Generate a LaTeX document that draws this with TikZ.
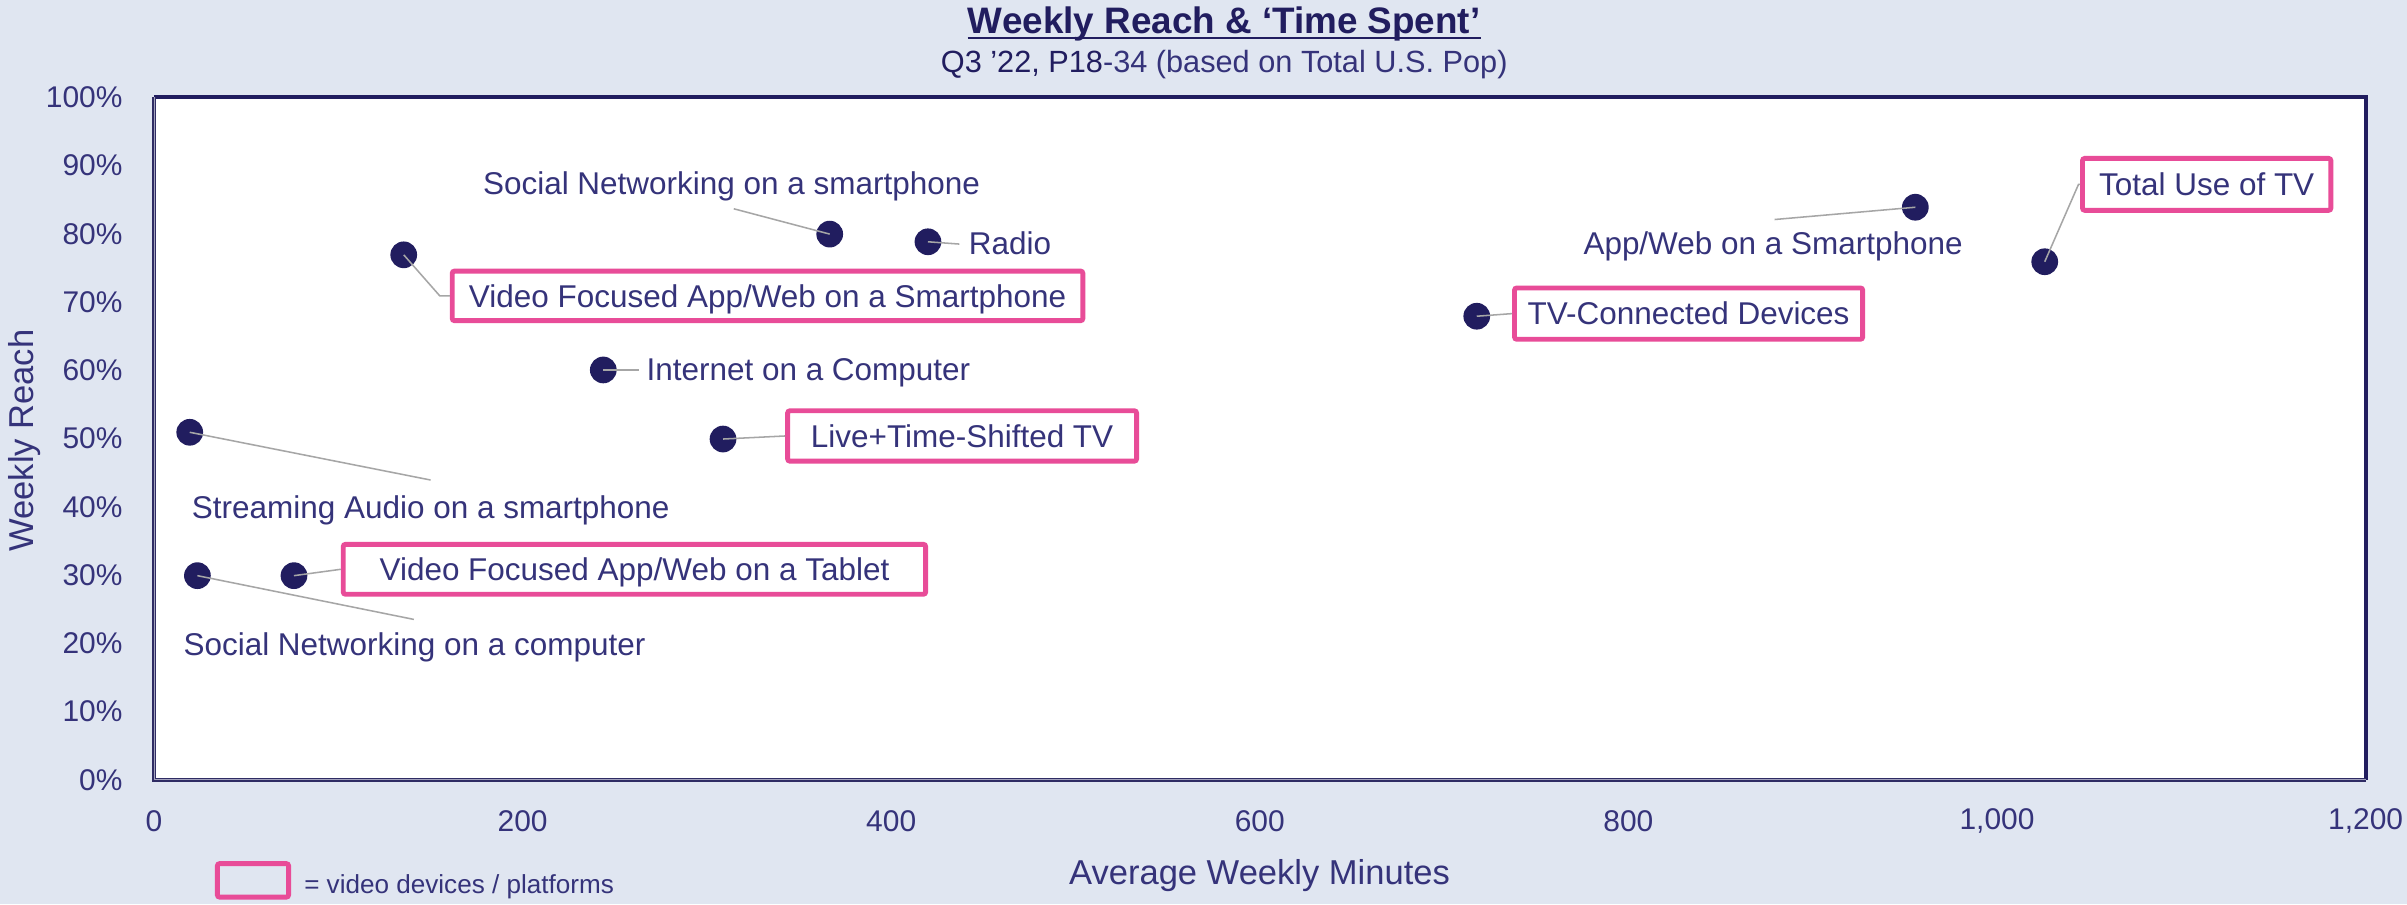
\documentclass[tikz,border=0pt]{standalone}
\usepackage{fontspec}
\setmainfont{Liberation Sans}
\usetikzlibrary{calc}
\definecolor{bg}{HTML}{E0E6F1}
\definecolor{navy}{HTML}{211D5F}
\definecolor{txt}{HTML}{35337A}
\definecolor{vpink}{HTML}{E84C98}
\definecolor{lead}{HTML}{A6A6A6}
\definecolor{frameinner}{HTML}{A4A3BE}
\tikzset{
  dot/.style={circle, fill=navy, minimum size=17.4pt, inner sep=0pt},
  lbl/.style={font=\fontsize{20.5}{24}\selectfont, text=txt, inner sep=0pt},
  vbox/.style={draw=vpink, line width=3.2pt, fill=white, rounded corners=1.5pt,
    font=\fontsize{20.5}{24}\selectfont, text=txt, inner sep=0pt,
    text height=14.8pt, text depth=0pt},
  leader/.style={draw=lead, line width=1pt},
  ytick/.style={font=\fontsize{19.5}{22}\selectfont, text=txt, anchor=east, inner sep=0pt},
  xtick/.style={font=\fontsize{19.5}{22}\selectfont, text=txt, anchor=center, inner sep=0pt},
  axtitle/.style={font=\fontsize{22.5}{26}\selectfont, text=txt, inner sep=0pt},
}
\begin{document}
\begin{tikzpicture}[x=1pt,y=-1pt]
\fill[bg] (0,0) rectangle (1568,589);
\path[use as bounding box] (0,0) rectangle (1568,589);
% plot area
\fill[white] (100.3,63.4) rectangle (1541,508);
\draw[navy, line width=2.6pt] (100.3,63.4) -- (1541,63.4) -- (1541,508);
\draw[navy!85!gray, line width=2.4pt] (100.3,63.4) -- (100.3,508) -- (1541,508);
\draw[frameinner, line width=0.6pt] (100.3,63.4) -- (100.3,508) -- (1541,508);
% y ticks
\foreach \v in {0,...,10} {
  \pgfmathsetmacro{\yy}{508-\v*44.46}
  \node[ytick] (yt\v) at (80,\yy) {\ifnum\v=0 0\%\else\v0\%\fi};
}
% x ticks
\foreach \v/\t in {0/0,200/200,400/400,600/600,800/800,1000/{1,000},1200/{1,200}} {
  \pgfmathsetmacro{\xx}{100.3+\v*1.2006}
  \node[xtick] (xt\v) at (\xx,535) {\t};
}
% axis titles
\node[axtitle, anchor=base] (xtitle) at (820.5,576) {Average Weekly Minutes};
\node[axtitle, anchor=base, rotate=90] (ytitle) at (21.7,287) {Weekly Reach};
% title
\node[anchor=base, inner sep=0pt, font=\bfseries\fontsize{24}{28}\selectfont, text=navy] (title) at (797.5,21.5) {Weekly Reach \& ‘Time Spent’};
\draw[navy, line width=1.2pt] ($(title.base west)+(0,3)$) -- ($(title.base east)+(0,3)$);
\node[anchor=base, inner sep=0pt, font=\fontsize{20}{24}\selectfont] (sub) at (797.5,47.3) {\textcolor{navy}{Q3 ’22, P18}\textcolor{txt}{-34 (based on Total U.S. Pop)}};
% dots
\node[dot] (A) at (263,166) {};
\node[dot] (B) at (540.5,152.5) {};
\node[dot] (C) at (604.5,157.5) {};
\node[dot] (D) at (393,241) {};
\node[dot] (E) at (471,286) {};
\node[dot] (F) at (123.6,281.6) {};
\node[dot] (G) at (128.6,375) {};
\node[dot] (H) at (191.5,375) {};
\node[dot] (I) at (962,206) {};
\node[dot] (J) at (1247.7,135) {};
\node[dot] (K) at (1332,170.5) {};
% boxed labels
\node[vbox, minimum width=410.8pt, minimum height=32.3pt] (Abox) at (500,192.75) {Video Focused App/Web on a Smartphone};
\node[vbox, minimum width=227.3pt, minimum height=32.8pt] (Ebox) at (626.75,284) {Live+Time-Shifted TV};
\node[vbox, minimum width=379.4pt, minimum height=32.5pt] (Hbox) at (413.3,370.85) {Video Focused App/Web on a Tablet};
\node[vbox, minimum width=226.8pt, minimum height=33.4pt] (Ibox) at (1100,204.3) {TV-Connected Devices};
\node[vbox, minimum width=161.8pt, minimum height=33.8pt] (Kbox) at (1437.5,120.1) {Total Use of TV};
% plain labels
\node[lbl, anchor=base] (Btxt) at (476.5,127) {Social Networking on a smartphone};
\node[lbl, anchor=base west] (Ctxt) at (631,166) {Radio};
\node[lbl, anchor=base west] (Dtxt) at (421,248) {Internet on a Computer};
\node[lbl, anchor=base] (Ftxt) at (280.6,337.5) {Streaming Audio on a smartphone};
\node[lbl, anchor=base] (Gtxt) at (270,426.7) {Social Networking on a computer};
\node[lbl, anchor=base] (Jtxt) at (1155,166) {App/Web on a Smartphone};
% leader ends
\coordinate (Ak) at (286.5,192.75);
\coordinate (Bk) at (478,136);
\coordinate (Ck) at (625,159);
\coordinate (Dk) at (416,241);
\coordinate (Fk) at (280.5,312.7);
\coordinate (Gk) at (269.6,403.5);
\coordinate (Jk) at (1156,143);
\coordinate (Kk) at (1354,120.1);
% leaders
\draw[leader] (A.center) -- (Ak) -- (Abox.west);
\draw[leader] (Bk) -- (B.center);
\draw[leader] (C.center) -- (Ck);
\draw[leader] (D.center) -- (Dk);
\draw[leader] (E.center) -- (Ebox.west);
\draw[leader] (F.center) -- (Fk);
\draw[leader] (G.center) -- (Gk);
\draw[leader] (H.center) -- (Hbox.west);
\draw[leader] (I.center) -- (Ibox.west);
\draw[leader] (Jk) -- (J.center);
\draw[leader] (K.center) -- (Kk) -- (Kbox.west);
% legend
\node[draw=vpink, line width=3.2pt, rounded corners=1.5pt, minimum width=46.4pt, minimum height=21.8pt, inner sep=0pt] (legbox) at (164.8,573.5) {};
\node[anchor=base west, inner sep=0pt, font=\fontsize{17}{20}\selectfont, text=txt] (legtxt) at (198,582) {= video devices / platforms};
\end{tikzpicture}
\end{document}
